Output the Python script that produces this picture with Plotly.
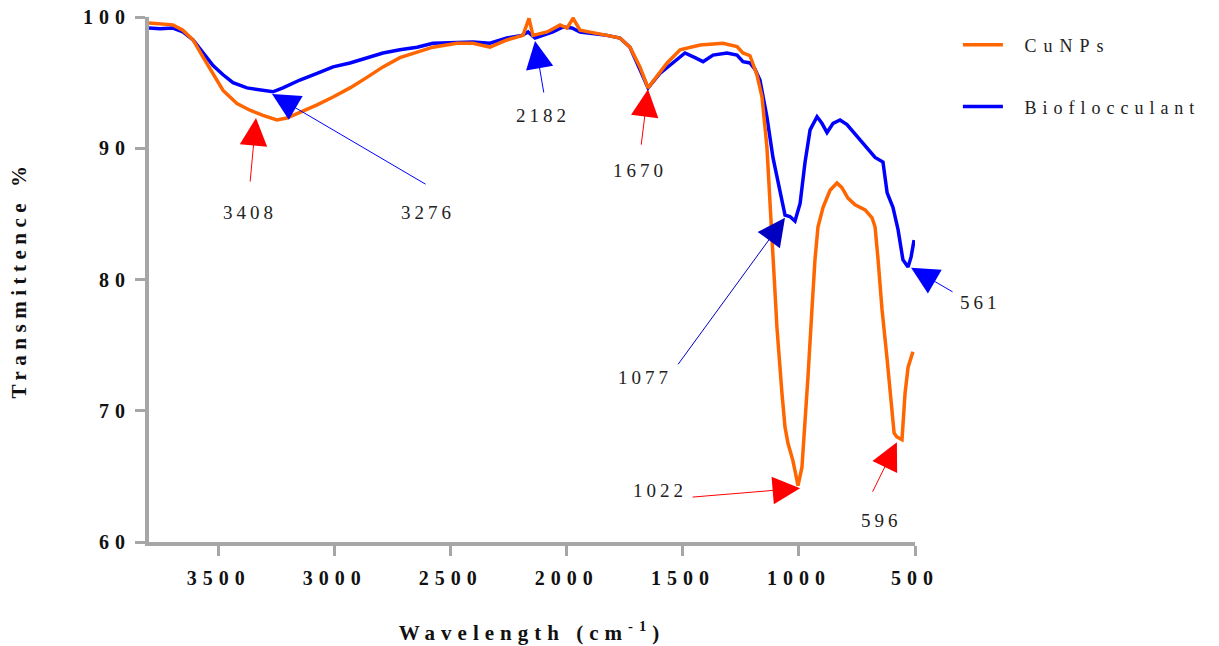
import plotly.graph_objects as go

# ---- FTIR spectra: wavenumber (cm-1) and transmittance (%) ----
cunps_wn = [3800, 3697, 3654, 3610, 3567, 3524, 3481, 3421, 3365, 3309, 3249, 3206,
            3150, 3076, 3007, 2934, 2861, 2792, 2719, 2645, 2577, 2473, 2404, 2331,
            2258, 2189, 2163, 2146, 2085, 2029, 1999, 1973, 1943, 1827, 1771, 1728,
            1685, 1650, 1568, 1512, 1426, 1327, 1267, 1241, 1211, 1181, 1159, 1138,
            1116, 1103, 1095, 1086, 1073, 1060, 1047, 1026, 1008, 1004, 987, 974,
            961, 944, 931, 918, 896, 866, 836, 815, 789, 758, 715, 685, 672, 659,
            642, 620, 599, 590, 578, 556, 543, 530, 509]
cunps_t = [99.54, 99.4, 99.0, 98.25, 96.95, 95.7, 94.4, 93.4, 92.9, 92.5, 92.15, 92.3,
           92.7, 93.3, 93.9, 94.6, 95.4, 96.2, 96.9, 97.3, 97.7, 98.0, 98.0, 97.7,
           98.25, 98.6, 99.9, 98.6, 98.86, 99.4, 99.16, 99.9, 99.0, 98.6, 98.4, 97.7,
           96.2, 94.6, 96.5, 97.5, 97.87, 98.0, 97.75, 97.26, 97.05, 95.6, 93.9, 90.1,
           83.8, 79.0, 76.4, 73.9, 71.3, 68.75, 67.5, 66.2, 64.7, 64.3, 65.7, 68.75,
           72.6, 77.7, 81.5, 84.0, 85.5, 86.8, 87.35, 87.0, 86.2, 85.7, 85.3, 84.7,
           84.0, 81.5, 77.7, 73.9, 70.0, 68.3, 68.0, 67.8, 71.3, 73.3, 74.5]

bio_wn = [3800, 3753, 3697, 3654, 3610, 3567, 3524, 3481, 3438, 3378, 3322, 3266,
          3223, 3150, 3076, 3007, 2934, 2861, 2792, 2719, 2645, 2577, 2473, 2404,
          2331, 2258, 2193, 2167, 2137, 2103, 2060, 2016, 1978, 1943, 1827, 1771,
          1728, 1685, 1650, 1599, 1543, 1491, 1448, 1413, 1370, 1310, 1267, 1241,
          1211, 1189, 1168, 1138, 1112, 1082, 1060, 1039, 1017, 995, 974, 952,
          922, 901, 879, 853, 823, 793, 750, 707, 672, 638, 620, 595, 573, 552,
          530, 517, 504]
bio_t = [99.16, 99.1, 99.16, 98.86, 98.25, 97.3, 96.3, 95.6, 95.0, 94.6, 94.44, 94.3,
         94.6, 95.2, 95.7, 96.2, 96.5, 96.9, 97.26, 97.5, 97.7, 98.0, 98.1, 98.1,
         98.0, 98.4, 98.6, 98.86, 98.4, 98.6, 98.86, 99.24, 99.16, 98.86, 98.6, 98.4,
         97.7, 96.0, 94.6, 95.7, 96.5, 97.26, 96.9, 96.6, 97.1, 97.26, 97.1, 96.6,
         96.5, 96.0, 95.2, 92.4, 89.3, 86.8, 84.9, 84.8, 84.45, 85.8, 88.9, 91.4,
         92.4, 91.9, 91.2, 91.9, 92.15, 91.8, 90.9, 90.1, 89.3, 88.95, 86.6, 85.5,
         83.8, 81.5, 80.95, 81.7, 83.0]

# Axis ticks
x_ticks = [3500, 3000, 2500, 2000, 1500, 1000, 500]
y_ticks = [60, 70, 80, 90, 100]

# Band assignments marked on the spectra
peak_labels = ["3408", "3276", "2182", "1670", "1077", "1022", "596", "561"]
peak_tip_wn = [3339, 3270, 2137, 1650, 1060, 995, 578, 517]
peak_tip_t = [92.3, 94.13, 98.17, 94.5, 84.7, 64.1, 67.6, 80.9]

SERIF = "Liberation Serif, Times New Roman, serif"
ORANGE = "#ff6600"
BLUE = "#0000ff"
AXIS_GREY = "#a6a6a6"


def spaced(text, px):
    return f"<span style='letter-spacing:{px}px'>{text}</span>"


def legend_name(text, px):
    # small gap between the legend line and its label
    return "<span style='letter-spacing:12px'>&nbsp;</span>" + spaced(text, px)


fig = go.Figure()
fig.add_trace(go.Scatter(x=bio_wn, y=bio_t, mode="lines",
                         name=legend_name("Bioflocculant", 6),
                         line=dict(color=BLUE, width=3.5), legend="legend2",
                         showlegend=True))
fig.add_trace(go.Scatter(x=cunps_wn, y=cunps_t, mode="lines",
                         name=legend_name("CuNPs", 7),
                         line=dict(color=ORANGE, width=3.5), legend="legend",
                         showlegend=True))

# arrow styling per band: (colour, tail offset px, label offset px)
arrow_style = [
    ("#ff0000", (-6, 65), (-6, -94)),
    ("#0000ff", (155, 91), (156, -118)),
    ("#0000ff", (9, 53), (8, -74)),
    ("#ff0000", (-7, 57), (-8, -81)),
    ("#0000c0", (-108, 148), (-140, -160)),
    ("#ff0000", (-109, 9), (-140, -2)),
    ("#ff0000", (-25, 51), (-15, -78)),
    ("#0000ff", (43, 25), (69, -35)),
]

annotations = []
for lab, xw, yt, (col, tail, lab_off) in zip(peak_labels, peak_tip_wn, peak_tip_t, arrow_style):
    annotations.append(dict(x=xw, y=yt, xref="x", yref="y", text="", showarrow=True,
                            arrowhead=2, arrowsize=5.5, arrowwidth=1, arrowcolor=col,
                            ax=tail[0], ay=tail[1]))
    annotations.append(dict(x=xw, y=yt, xref="x", yref="y", text=spaced(lab, 4),
                            showarrow=False, xshift=lab_off[0], yshift=lab_off[1],
                            font=dict(family=SERIF, size=19, color="#222222")))

legend_common = dict(xanchor="left", yanchor="middle",
                     font=dict(family=SERIF, size=18, color="#222222"),
                     bgcolor="rgba(0,0,0,0)", itemwidth=40)

fig.update_layout(
    width=1219, height=646,
    margin=dict(l=149, r=304, t=17, b=104, autoexpand=False),
    paper_bgcolor="white", plot_bgcolor="white",
    showlegend=True,
    annotations=annotations,
    legend=dict(x=1.056, y=0.9467, **legend_common),
    legend2=dict(x=1.056, y=0.829, **legend_common),
    xaxis=dict(
        range=[3800, 500], showgrid=False, zeroline=False,
        showline=True, linecolor=AXIS_GREY, linewidth=4,
        ticks="outside", ticklen=10, tickwidth=3, tickcolor=AXIS_GREY,
        tickvals=x_ticks, ticktext=[spaced(str(v), 6) for v in x_ticks],
        ticklabelstandoff=5,
        tickfont=dict(family=SERIF, size=20, color="#111111", weight="bold"),
        title=dict(text=spaced("Wavelength (cm<sup>-1</sup>)", 6), standoff=38,
                   font=dict(family=SERIF, size=21, color="#111111", weight="bold")),
    ),
    yaxis=dict(
        range=[60, 100], showgrid=False, zeroline=False,
        showline=True, linecolor=AXIS_GREY, linewidth=4,
        ticks="outside", ticklen=10, tickwidth=3, tickcolor=AXIS_GREY,
        tickvals=y_ticks, ticktext=[spaced(str(v), 6) for v in y_ticks],
        tickfont=dict(family=SERIF, size=20, color="#111111", weight="bold"),
        title=dict(text=spaced("Transmittence %", 5.5), standoff=52,
                   font=dict(family=SERIF, size=21, color="#111111", weight="bold")),
    ),
)

fig.write_html("out.html")
